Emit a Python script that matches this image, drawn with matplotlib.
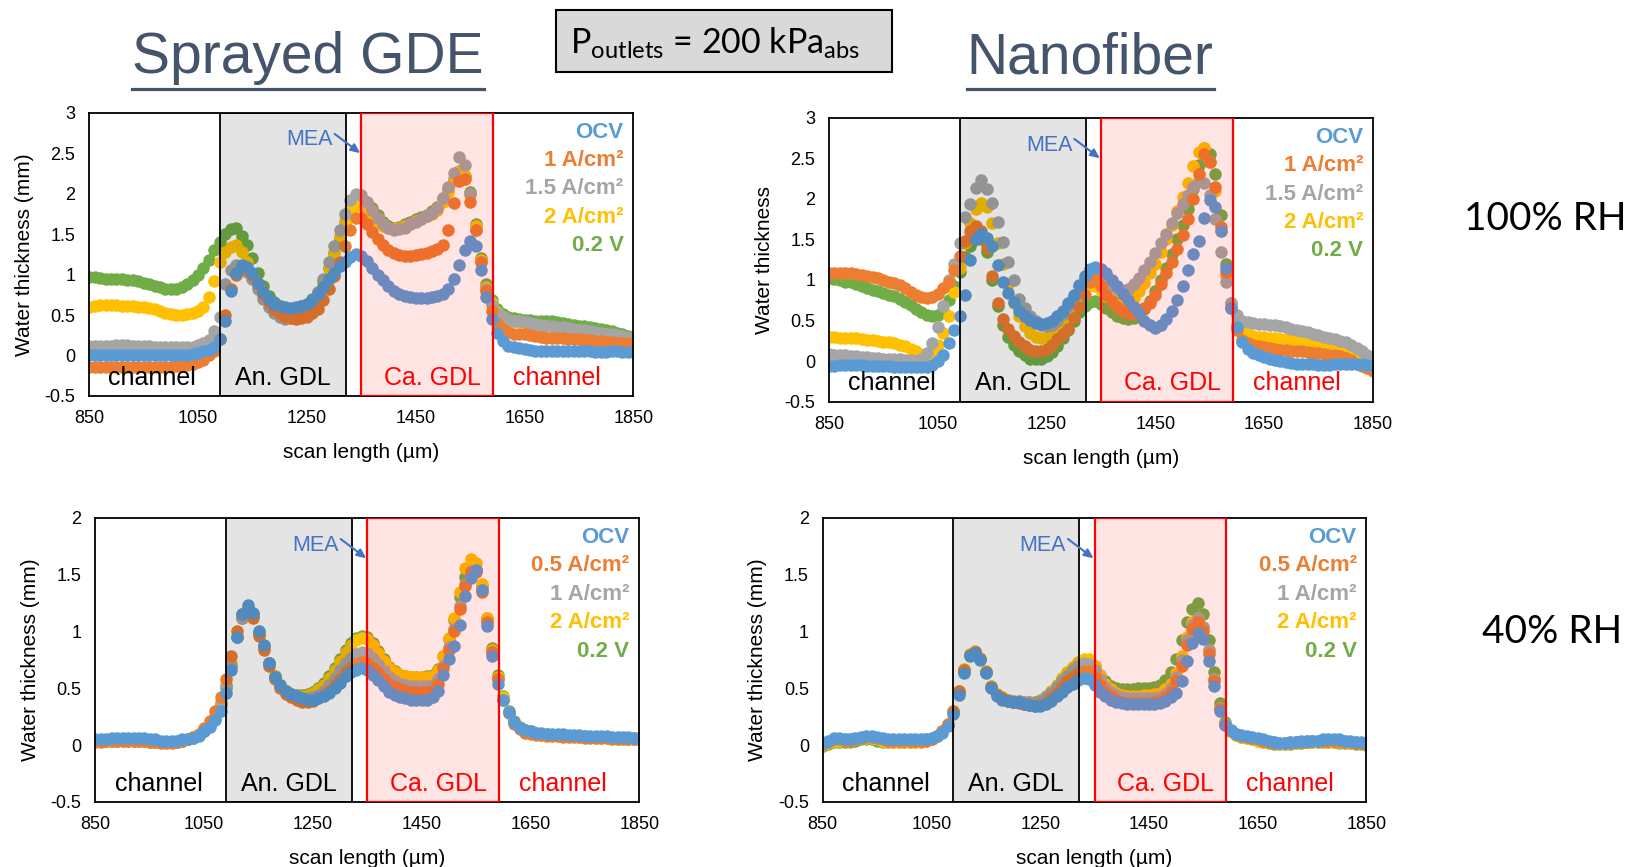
import numpy as np
import matplotlib
matplotlib.use("Agg")
import matplotlib.pyplot as plt
from matplotlib.patches import Rectangle
from matplotlib.lines import Line2D

plt.rcParams["font.family"] = ["Liberation Sans", "DejaVu Sans"]
plt.rcParams["mathtext.fontset"] = "custom"
plt.rcParams["mathtext.rm"] = "Lato"
plt.rcParams["mathtext.it"] = "Lato:italic"
plt.rcParams["mathtext.bf"] = "Lato:bold"

# scan positions along the through-plane line (µm)
SCAN_UM = list(range(850, 1851, 10))

# ---- Sprayed GDE, 100 % RH ----
sprayed_100_ocv = [
    0.00, 0.00, 0.01, 0.01, 0.01, 0.00, 0.00, 0.00, 0.00, 0.00,
    0.00, 0.00, 0.00, 0.00, 0.00, 0.00, 0.00, 0.01, 0.01, 0.02,
    0.03, 0.05, 0.07, 0.10, 0.20, 0.42, 0.80, 1.02, 1.12, 1.09,
    1.02, 0.90, 0.79, 0.70, 0.64, 0.61, 0.60, 0.59, 0.60, 0.61,
    0.64, 0.69, 0.76, 0.85, 0.94, 1.02, 1.10, 1.16, 1.22, 1.25,
    1.23, 1.17, 1.08, 1.00, 0.93, 0.86, 0.80, 0.76, 0.74, 0.72,
    0.71, 0.71, 0.71, 0.72, 0.73, 0.76, 0.82, 0.95, 1.12, 1.30,
    1.42, 1.35, 1.05, 0.72, 0.45, 0.28, 0.18, 0.12, 0.10, 0.09,
    0.08, 0.07, 0.06, 0.06, 0.05, 0.05, 0.05, 0.05, 0.05, 0.05,
    0.05, 0.05, 0.05, 0.04, 0.04, 0.04, 0.05, 0.05, 0.04, 0.04,
    0.04]
sprayed_100_1a = [
    -0.14, -0.14, -0.14, -0.14, -0.14, -0.14, -0.14, -0.14, -0.14, -0.14,
    -0.14, -0.14, -0.14, -0.14, -0.14, -0.14, -0.13, -0.13, -0.12, -0.10,
    -0.08, -0.05, 0.00, 0.05, 0.20, 0.50, 0.82, 1.00, 1.08, 1.07,
    1.00, 0.88, 0.76, 0.66, 0.58, 0.52, 0.48, 0.46, 0.45, 0.46,
    0.48, 0.52, 0.58, 0.68, 0.82, 0.98, 1.15, 1.35, 1.55, 1.70,
    1.70, 1.62, 1.52, 1.44, 1.36, 1.30, 1.26, 1.24, 1.23, 1.23,
    1.24, 1.25, 1.27, 1.29, 1.31, 1.36, 1.55, 1.88, 2.16, 2.18,
    1.90, 1.55, 1.15, 0.80, 0.55, 0.40, 0.33, 0.29, 0.27, 0.26,
    0.26, 0.25, 0.24, 0.23, 0.22, 0.22, 0.21, 0.21, 0.20, 0.20,
    0.20, 0.19, 0.19, 0.18, 0.18, 0.17, 0.17, 0.16, 0.15, 0.15,
    0.14]
sprayed_100_15a = [
    0.12, 0.12, 0.12, 0.12, 0.12, 0.13, 0.13, 0.13, 0.12, 0.12,
    0.12, 0.12, 0.11, 0.11, 0.10, 0.10, 0.10, 0.10, 0.10, 0.11,
    0.13, 0.15, 0.19, 0.30, 0.48, 0.88, 1.06, 1.12, 1.10, 1.03,
    0.94, 0.82, 0.70, 0.60, 0.52, 0.47, 0.45, 0.46, 0.48, 0.52,
    0.57, 0.65, 0.78, 0.95, 1.15, 1.35, 1.55, 1.75, 1.92, 2.00,
    1.98, 1.90, 1.80, 1.70, 1.62, 1.57, 1.55, 1.56, 1.58, 1.62,
    1.65, 1.68, 1.72, 1.76, 1.82, 1.95, 2.08, 2.25, 2.45, 2.35,
    2.00, 1.55, 1.15, 0.82, 0.62, 0.52, 0.47, 0.44, 0.43, 0.42,
    0.41, 0.40, 0.39, 0.38, 0.37, 0.36, 0.35, 0.35, 0.34, 0.33,
    0.32, 0.31, 0.30, 0.29, 0.28, 0.27, 0.26, 0.25, 0.24, 0.22,
    0.20]
sprayed_100_2a = [
    0.60, 0.61, 0.62, 0.62, 0.62, 0.62, 0.61, 0.61, 0.61, 0.60,
    0.60, 0.59, 0.57, 0.55, 0.53, 0.51, 0.50, 0.50, 0.51, 0.53,
    0.55, 0.60, 0.72, 0.92, 1.15, 1.28, 1.34, 1.36, 1.28, 1.15,
    1.00, 0.86, 0.74, 0.66, 0.60, 0.56, 0.54, 0.54, 0.55, 0.57,
    0.60, 0.66, 0.76, 0.90, 1.08, 1.28, 1.48, 1.66, 1.80, 1.86,
    1.85, 1.80, 1.72, 1.65, 1.60, 1.57, 1.56, 1.57, 1.60, 1.63,
    1.66, 1.69, 1.72, 1.75, 1.80, 1.90, 2.02, 2.16, 2.28, 2.22,
    2.00, 1.60, 1.18, 0.85, 0.65, 0.54, 0.48, 0.44, 0.42, 0.41,
    0.40, 0.39, 0.38, 0.37, 0.36, 0.35, 0.34, 0.33, 0.33, 0.32,
    0.31, 0.30, 0.29, 0.28, 0.27, 0.26, 0.25, 0.24, 0.23, 0.21,
    0.20]
sprayed_100_02v = [
    0.97, 0.97, 0.96, 0.95, 0.95, 0.94, 0.94, 0.93, 0.93, 0.92,
    0.90, 0.88, 0.86, 0.84, 0.82, 0.82, 0.82, 0.84, 0.88, 0.93,
    1.00, 1.08, 1.18, 1.30, 1.40, 1.50, 1.56, 1.57, 1.48, 1.36,
    1.20, 1.02, 0.86, 0.74, 0.66, 0.61, 0.59, 0.58, 0.59, 0.61,
    0.64, 0.70, 0.79, 0.92, 1.08, 1.26, 1.45, 1.63, 1.80, 1.92,
    1.95, 1.90, 1.82, 1.73, 1.65, 1.60, 1.58, 1.59, 1.62, 1.65,
    1.68, 1.71, 1.74, 1.78, 1.84, 1.94, 2.05, 2.18, 2.28, 2.22,
    2.02, 1.62, 1.20, 0.88, 0.68, 0.57, 0.51, 0.48, 0.46, 0.45,
    0.44, 0.44, 0.43, 0.43, 0.42, 0.42, 0.41, 0.40, 0.39, 0.38,
    0.37, 0.36, 0.35, 0.34, 0.33, 0.31, 0.30, 0.28, 0.26, 0.24,
    0.22]

# ---- Nanofiber, 100 % RH ----
nano_100_ocv = [
    -0.06, -0.06, -0.05, -0.05, -0.05, -0.05, -0.05, -0.06, -0.06, -0.06,
    -0.06, -0.06, -0.07, -0.07, -0.07, -0.07, -0.07, -0.07, -0.07, -0.05,
    0.00, 0.08, 0.22, 0.38, 0.55, 0.82, 1.25, 1.50, 1.57, 1.52,
    1.42, 1.18, 0.98, 0.84, 0.73, 0.62, 0.56, 0.51, 0.47, 0.46,
    0.47, 0.49, 0.55, 0.62, 0.71, 0.82, 0.94, 1.05, 1.13, 1.16,
    1.14, 1.08, 1.00, 0.92, 0.83, 0.75, 0.67, 0.59, 0.50, 0.44,
    0.41, 0.44, 0.52, 0.62, 0.75, 0.92, 1.12, 1.32, 1.48, 1.76,
    1.98, 1.90, 1.60, 1.15, 0.66, 0.42, 0.24, 0.15, 0.10, 0.07,
    0.05, 0.03, 0.01, 0.00, -0.01, -0.02, -0.03, -0.03, -0.04, -0.04,
    -0.05, -0.05, -0.05, -0.04, -0.04, -0.04, -0.03, -0.03, -0.04, -0.05,
    -0.06]
nano_100_1a = [
    1.08, 1.09, 1.09, 1.08, 1.08, 1.07, 1.06, 1.05, 1.04, 1.02,
    1.00, 0.98, 0.96, 0.94, 0.90, 0.85, 0.81, 0.79, 0.78, 0.79,
    0.83, 0.90, 0.98, 1.12, 1.30, 1.48, 1.60, 1.66, 1.60, 1.39,
    1.05, 0.72, 0.52, 0.40, 0.31, 0.24, 0.18, 0.14, 0.12, 0.12,
    0.15, 0.20, 0.27, 0.34, 0.40, 0.53, 0.67, 0.82, 0.97, 1.02,
    0.92, 0.82, 0.74, 0.67, 0.62, 0.59, 0.58, 0.60, 0.65, 0.72,
    0.82, 0.95, 1.08, 1.22, 1.38, 1.55, 1.75, 2.00, 2.30, 2.55,
    2.45, 2.15, 1.65, 1.10, 0.65, 0.38, 0.26, 0.22, 0.20, 0.18,
    0.17, 0.16, 0.15, 0.14, 0.14, 0.13, 0.12, 0.12, 0.11, 0.10,
    0.10, 0.09, 0.08, 0.07, 0.06, 0.04, 0.01, -0.03, -0.06, -0.09,
    -0.12]
nano_100_15a = [
    0.09, 0.08, 0.08, 0.07, 0.06, 0.06, 0.05, 0.05, 0.04, 0.04,
    0.03, 0.03, 0.02, 0.02, 0.01, 0.01, 0.00, 0.02, 0.10, 0.22,
    0.42, 0.68, 1.00, 1.20, 1.45, 1.78, 1.94, 2.13, 2.23, 2.12,
    1.95, 1.72, 1.47, 1.22, 1.00, 0.76, 0.65, 0.56, 0.50, 0.45,
    0.43, 0.45, 0.50, 0.58, 0.68, 0.80, 0.92, 1.02, 1.08, 1.10,
    1.06, 1.00, 0.94, 0.89, 0.87, 0.89, 0.95, 1.03, 1.12, 1.22,
    1.33, 1.45, 1.57, 1.70, 1.82, 1.93, 2.05, 2.15, 2.22, 2.20,
    2.05, 1.75, 1.35, 0.98, 0.72, 0.57, 0.50, 0.48, 0.47, 0.46,
    0.46, 0.45, 0.44, 0.43, 0.42, 0.40, 0.38, 0.37, 0.36, 0.34,
    0.32, 0.30, 0.29, 0.27, 0.25, 0.23, 0.20, 0.16, 0.12, 0.08,
    0.05]
nano_100_2a = [
    0.30, 0.30, 0.29, 0.29, 0.28, 0.28, 0.27, 0.26, 0.26, 0.25,
    0.24, 0.23, 0.22, 0.20, 0.18, 0.15, 0.12, 0.08, 0.06, 0.10,
    0.20, 0.35, 0.55, 0.85, 1.15, 1.45, 1.70, 1.88, 1.95, 1.90,
    1.70, 1.45, 1.20, 0.95, 0.72, 0.55, 0.43, 0.35, 0.30, 0.29,
    0.30, 0.35, 0.42, 0.52, 0.62, 0.72, 0.82, 0.90, 0.94, 0.93,
    0.88, 0.80, 0.75, 0.71, 0.70, 0.72, 0.78, 0.86, 0.96, 1.08,
    1.20, 1.35, 1.50, 1.68, 1.85, 2.02, 2.20, 2.40, 2.58, 2.62,
    2.45, 2.10, 1.60, 1.05, 0.65, 0.45, 0.36, 0.33, 0.31, 0.30,
    0.30, 0.29, 0.28, 0.27, 0.27, 0.26, 0.25, 0.25, 0.24, 0.23,
    0.22, 0.21, 0.20, 0.19, 0.18, 0.17, 0.14, 0.10, 0.07, 0.04,
    0.02]
nano_100_02v = [
    1.02, 1.01, 1.00, 0.98, 0.97, 0.95, 0.93, 0.90, 0.88, 0.86,
    0.84, 0.82, 0.80, 0.77, 0.73, 0.69, 0.64, 0.60, 0.57, 0.56,
    0.57, 0.62, 0.75, 0.92, 1.10, 1.28, 1.42, 1.50, 1.50, 1.35,
    1.00, 0.68, 0.45, 0.30, 0.20, 0.12, 0.07, 0.03, 0.02, 0.03,
    0.06, 0.11, 0.18, 0.28, 0.38, 0.50, 0.60, 0.68, 0.73, 0.74,
    0.70, 0.65, 0.60, 0.56, 0.53, 0.52, 0.53, 0.57, 0.64, 0.74,
    0.86, 1.00, 1.15, 1.32, 1.50, 1.68, 1.88, 2.12, 2.42, 2.62,
    2.55, 2.30, 1.80, 1.20, 0.72, 0.45, 0.34, 0.30, 0.29, 0.28,
    0.28, 0.27, 0.26, 0.25, 0.24, 0.24, 0.23, 0.22, 0.21, 0.21,
    0.20, 0.19, 0.18, 0.16, 0.14, 0.12, 0.09, 0.06, 0.03, 0.01,
    0.00]

# ---- Sprayed GDE, 40 % RH ----
sprayed_40_ocv = [
    0.05, 0.05, 0.05, 0.06, 0.06, 0.06, 0.06, 0.06, 0.06, 0.06,
    0.05, 0.05, 0.04, 0.04, 0.04, 0.04, 0.05, 0.05, 0.06, 0.08,
    0.12, 0.16, 0.22, 0.30, 0.46, 0.66, 0.95, 1.15, 1.23, 1.16,
    1.00, 0.88, 0.72, 0.60, 0.53, 0.48, 0.45, 0.43, 0.41, 0.40,
    0.40, 0.41, 0.43, 0.46, 0.50, 0.55, 0.61, 0.64, 0.66, 0.68,
    0.66, 0.62, 0.57, 0.52, 0.47, 0.44, 0.42, 0.41, 0.40, 0.40,
    0.40, 0.40, 0.42, 0.48, 0.62, 0.76, 0.87, 1.06, 1.31, 1.47,
    1.54, 1.36, 1.05, 0.78, 0.54, 0.40, 0.29, 0.20, 0.15, 0.13,
    0.12, 0.11, 0.11, 0.10, 0.10, 0.10, 0.10, 0.09, 0.09, 0.09,
    0.08, 0.08, 0.08, 0.08, 0.08, 0.07, 0.07, 0.07, 0.07, 0.06,
    0.06]
sprayed_40_05a = [
    0.03, 0.03, 0.04, 0.04, 0.04, 0.04, 0.04, 0.04, 0.04, 0.04,
    0.03, 0.03, 0.02, 0.02, 0.02, 0.03, 0.04, 0.05, 0.07, 0.10,
    0.15, 0.21, 0.30, 0.42, 0.58, 0.78, 1.00, 1.15, 1.20, 1.12,
    0.96, 0.84, 0.70, 0.58, 0.50, 0.45, 0.42, 0.40, 0.38, 0.38,
    0.39, 0.41, 0.44, 0.48, 0.53, 0.58, 0.64, 0.68, 0.71, 0.73,
    0.72, 0.68, 0.63, 0.58, 0.54, 0.51, 0.49, 0.48, 0.47, 0.47,
    0.47, 0.47, 0.48, 0.54, 0.68, 0.84, 1.00, 1.20, 1.40, 1.52,
    1.52, 1.35, 1.08, 0.82, 0.58, 0.40, 0.28, 0.19, 0.14, 0.11,
    0.10, 0.09, 0.09, 0.08, 0.08, 0.08, 0.07, 0.07, 0.07, 0.07,
    0.06, 0.06, 0.06, 0.06, 0.06, 0.05, 0.05, 0.05, 0.05, 0.05,
    0.05]
sprayed_40_1a = [
    0.04, 0.04, 0.04, 0.04, 0.05, 0.05, 0.05, 0.05, 0.05, 0.05,
    0.04, 0.04, 0.03, 0.03, 0.03, 0.03, 0.04, 0.05, 0.06, 0.09,
    0.13, 0.18, 0.25, 0.36, 0.52, 0.70, 0.95, 1.12, 1.20, 1.14,
    0.98, 0.86, 0.72, 0.60, 0.52, 0.47, 0.44, 0.42, 0.41, 0.41,
    0.42, 0.44, 0.48, 0.53, 0.59, 0.66, 0.72, 0.77, 0.80, 0.82,
    0.81, 0.77, 0.71, 0.65, 0.60, 0.56, 0.54, 0.53, 0.52, 0.52,
    0.52, 0.52, 0.53, 0.58, 0.70, 0.86, 1.02, 1.22, 1.42, 1.53,
    1.53, 1.36, 1.08, 0.82, 0.58, 0.40, 0.28, 0.20, 0.15, 0.12,
    0.11, 0.10, 0.10, 0.09, 0.09, 0.09, 0.08, 0.08, 0.08, 0.08,
    0.07, 0.07, 0.07, 0.07, 0.07, 0.06, 0.06, 0.06, 0.05, 0.05,
    0.05]
sprayed_40_2a = [
    0.04, 0.04, 0.04, 0.04, 0.05, 0.05, 0.05, 0.05, 0.05, 0.04,
    0.04, 0.03, 0.03, 0.03, 0.03, 0.04, 0.04, 0.05, 0.07, 0.09,
    0.13, 0.18, 0.26, 0.38, 0.54, 0.72, 0.96, 1.13, 1.21, 1.15,
    0.99, 0.86, 0.72, 0.61, 0.53, 0.48, 0.45, 0.43, 0.43, 0.44,
    0.46, 0.49, 0.53, 0.59, 0.66, 0.74, 0.82, 0.88, 0.92, 0.94,
    0.93, 0.88, 0.81, 0.74, 0.68, 0.64, 0.62, 0.61, 0.60, 0.60,
    0.60, 0.60, 0.61, 0.66, 0.78, 0.94, 1.12, 1.35, 1.56, 1.64,
    1.60, 1.42, 1.12, 0.84, 0.60, 0.42, 0.29, 0.20, 0.15, 0.12,
    0.11, 0.10, 0.09, 0.09, 0.09, 0.08, 0.08, 0.08, 0.08, 0.07,
    0.07, 0.07, 0.06, 0.06, 0.06, 0.06, 0.05, 0.05, 0.05, 0.05,
    0.05]
sprayed_40_02v = [
    0.04, 0.04, 0.04, 0.04, 0.04, 0.04, 0.04, 0.04, 0.04, 0.04,
    0.03, 0.03, 0.03, 0.03, 0.03, 0.03, 0.04, 0.05, 0.06, 0.09,
    0.12, 0.17, 0.24, 0.35, 0.50, 0.70, 0.95, 1.12, 1.20, 1.14,
    0.99, 0.86, 0.72, 0.61, 0.53, 0.48, 0.45, 0.44, 0.44, 0.45,
    0.47, 0.50, 0.55, 0.61, 0.68, 0.76, 0.84, 0.90, 0.94, 0.96,
    0.95, 0.90, 0.83, 0.76, 0.69, 0.65, 0.62, 0.61, 0.60, 0.60,
    0.60, 0.61, 0.62, 0.67, 0.78, 0.93, 1.10, 1.30, 1.48, 1.56,
    1.55, 1.40, 1.12, 0.85, 0.62, 0.43, 0.30, 0.21, 0.16, 0.13,
    0.12, 0.11, 0.10, 0.10, 0.09, 0.09, 0.09, 0.08, 0.08, 0.08,
    0.08, 0.07, 0.07, 0.07, 0.07, 0.06, 0.06, 0.06, 0.06, 0.06,
    0.06]

# ---- Nanofiber, 40 % RH ----
nano_40_ocv = [
    0.02, 0.04, 0.06, 0.06, 0.05, 0.05, 0.06, 0.07, 0.08, 0.08,
    0.07, 0.06, 0.05, 0.05, 0.05, 0.05, 0.05, 0.05, 0.05, 0.05,
    0.06, 0.08, 0.11, 0.17, 0.27, 0.44, 0.63, 0.78, 0.81, 0.75,
    0.63, 0.50, 0.43, 0.40, 0.39, 0.38, 0.38, 0.36, 0.35, 0.34,
    0.34, 0.36, 0.39, 0.43, 0.47, 0.51, 0.54, 0.57, 0.59, 0.58,
    0.53, 0.47, 0.43, 0.40, 0.38, 0.37, 0.36, 0.36, 0.36, 0.36,
    0.36, 0.36, 0.37, 0.39, 0.42, 0.46, 0.56, 0.74, 0.90, 0.99,
    0.93, 0.74, 0.52, 0.30, 0.18, 0.13, 0.10, 0.09, 0.08, 0.07,
    0.06, 0.05, 0.04, 0.03, 0.02, 0.02, 0.03, 0.03, 0.04, 0.04,
    0.04, 0.04, 0.05, 0.05, 0.05, 0.05, 0.04, 0.04, 0.03, 0.03,
    0.02]
nano_40_05a = [
    0.01, 0.03, 0.05, 0.05, 0.04, 0.04, 0.05, 0.06, 0.07, 0.07,
    0.06, 0.05, 0.04, 0.04, 0.04, 0.04, 0.04, 0.04, 0.04, 0.04,
    0.05, 0.08, 0.12, 0.19, 0.30, 0.48, 0.66, 0.79, 0.82, 0.76,
    0.64, 0.51, 0.44, 0.41, 0.39, 0.38, 0.37, 0.36, 0.35, 0.34,
    0.35, 0.37, 0.41, 0.46, 0.51, 0.56, 0.60, 0.63, 0.65, 0.65,
    0.60, 0.53, 0.47, 0.43, 0.40, 0.38, 0.37, 0.37, 0.37, 0.37,
    0.37, 0.38, 0.39, 0.42, 0.47, 0.56, 0.70, 0.88, 1.02, 1.08,
    1.00, 0.80, 0.56, 0.32, 0.18, 0.12, 0.10, 0.08, 0.07, 0.06,
    0.05, 0.04, 0.03, 0.02, 0.02, 0.02, 0.02, 0.03, 0.03, 0.03,
    0.04, 0.04, 0.04, 0.04, 0.04, 0.04, 0.03, 0.03, 0.02, 0.02,
    0.01]
nano_40_1a = [
    0.01, 0.03, 0.05, 0.05, 0.05, 0.05, 0.05, 0.06, 0.07, 0.07,
    0.06, 0.05, 0.04, 0.04, 0.04, 0.04, 0.04, 0.04, 0.04, 0.05,
    0.06, 0.08, 0.12, 0.18, 0.28, 0.46, 0.65, 0.79, 0.82, 0.76,
    0.64, 0.51, 0.44, 0.41, 0.40, 0.39, 0.39, 0.38, 0.38, 0.38,
    0.39, 0.42, 0.46, 0.51, 0.56, 0.61, 0.66, 0.70, 0.72, 0.71,
    0.66, 0.58, 0.51, 0.47, 0.44, 0.42, 0.41, 0.41, 0.41, 0.41,
    0.41, 0.41, 0.42, 0.45, 0.50, 0.60, 0.75, 0.92, 1.06, 1.12,
    1.04, 0.84, 0.58, 0.33, 0.19, 0.13, 0.10, 0.08, 0.07, 0.06,
    0.05, 0.04, 0.03, 0.03, 0.02, 0.02, 0.03, 0.03, 0.03, 0.04,
    0.04, 0.04, 0.04, 0.04, 0.04, 0.04, 0.04, 0.03, 0.03, 0.02,
    0.02]
nano_40_2a = [
    0.00, 0.02, 0.04, 0.04, 0.04, 0.04, 0.05, 0.06, 0.06, 0.06,
    0.05, 0.04, 0.03, 0.03, 0.03, 0.03, 0.03, 0.03, 0.03, 0.04,
    0.05, 0.08, 0.12, 0.19, 0.30, 0.48, 0.67, 0.80, 0.83, 0.77,
    0.65, 0.52, 0.45, 0.42, 0.40, 0.39, 0.39, 0.38, 0.38, 0.38,
    0.40, 0.43, 0.48, 0.53, 0.59, 0.64, 0.69, 0.73, 0.76, 0.76,
    0.70, 0.62, 0.54, 0.49, 0.46, 0.44, 0.43, 0.43, 0.43, 0.44,
    0.44, 0.45, 0.46, 0.49, 0.54, 0.63, 0.78, 0.95, 1.08, 1.12,
    1.04, 0.84, 0.58, 0.33, 0.19, 0.12, 0.09, 0.07, 0.06, 0.05,
    0.04, 0.03, 0.02, 0.02, 0.01, 0.01, 0.02, 0.02, 0.03, 0.03,
    0.03, 0.03, 0.03, 0.03, 0.03, 0.03, 0.03, 0.02, 0.02, 0.01,
    0.01]
nano_40_02v = [
    -0.01, 0.01, 0.03, 0.03, 0.03, 0.03, 0.04, 0.05, 0.05, 0.05,
    0.04, 0.03, 0.03, 0.03, 0.03, 0.03, 0.03, 0.03, 0.03, 0.04,
    0.05, 0.08, 0.12, 0.18, 0.29, 0.47, 0.66, 0.79, 0.82, 0.76,
    0.64, 0.51, 0.44, 0.41, 0.39, 0.38, 0.38, 0.37, 0.37, 0.37,
    0.39, 0.42, 0.47, 0.52, 0.58, 0.63, 0.68, 0.72, 0.75, 0.75,
    0.70, 0.62, 0.56, 0.52, 0.50, 0.49, 0.49, 0.49, 0.50, 0.50,
    0.50, 0.51, 0.53, 0.57, 0.64, 0.76, 0.92, 1.08, 1.20, 1.25,
    1.15, 0.92, 0.64, 0.37, 0.20, 0.12, 0.09, 0.07, 0.06, 0.05,
    0.04, 0.03, 0.02, 0.01, 0.01, 0.01, 0.01, 0.02, 0.02, 0.03,
    0.03, 0.03, 0.03, 0.03, 0.03, 0.02, 0.02, 0.02, 0.01, 0.01,
    0.00]

LABELS_100 = ["OCV", "1 A/cm²", "1.5 A/cm²", "2 A/cm²", "0.2 V"]
LABELS_40 = ["OCV", "0.5 A/cm²", "1 A/cm²", "2 A/cm²", "0.2 V"]
COLORS = ["#5B9BD5", "#ED7D31", "#A5A5A5", "#FFC000", "#70AD47"]

# layer boundaries along the scan (µm)
AN_GDL = (1090, 1322)
CA_GDL = (1350, 1592)

fig = plt.figure(figsize=(16.4, 8.67), dpi=100)


def draw_panel(rect, series, labels, ymax, ylabel):
    ax = fig.add_axes(rect)
    # OCV is drawn last so it sits on top
    for ys, c in reversed(list(zip(series, COLORS))):
        ax.plot(SCAN_UM, ys, ls="none", marker="o", ms=9, mew=0,
                color=c, zorder=2)

    ax.set_xlim(850, 1850)
    ax.set_ylim(-0.5, ymax)
    ax.set_xticks(range(850, 1851, 200))
    yt = np.arange(-0.5, ymax + 0.01, 0.5)
    ax.set_yticks(yt)
    ax.set_yticklabels([f"{v:g}" for v in yt])
    ax.tick_params(length=0, pad=10, labelsize=13)
    for sp in ax.spines.values():
        sp.set_linewidth(1.3)
        sp.set_color("black")
    ax.set_xlabel("scan length (µm)", fontsize=15)
    ax.set_ylabel(ylabel, fontsize=15)
    ax.xaxis.set_label_coords(0.5, -0.165)
    ax.yaxis.set_label_coords(-0.102, 0.5)

    # layer overlays sit above the markers, as in the source spreadsheet
    ax.add_patch(Rectangle((AN_GDL[0], -0.5), AN_GDL[1] - AN_GDL[0], ymax + 0.5,
                           fc=(0, 0, 0, 0.105), ec="black", lw=1.3, zorder=3))
    ax.add_patch(Rectangle((CA_GDL[0], -0.5), CA_GDL[1] - CA_GDL[0], ymax + 0.5,
                           fc=(1, 0, 0, 0.105), ec="red", lw=1.6, zorder=3))

    xt = ax.get_xaxis_transform()
    for x, txt, c in [(966, "channel", "black"), (1206, "An. GDL", "black"),
                      (1481, "Ca. GDL", "red"), (1710, "channel", "red")]:
        ax.text(x, 0.04, txt, transform=xt, ha="center", va="baseline",
                fontsize=18, color=c, zorder=4)

    ax.text(1255, 0.884, "MEA", transform=xt, ha="center", va="baseline",
            fontsize=15.5, color="#4472C4", zorder=4)
    ax.annotate("", xy=(1348, 0.857), xytext=(1301, 0.925),
                xycoords=xt, textcoords=xt,
                arrowprops=dict(arrowstyle="-|>,head_length=0.55,head_width=0.25",
                                color="#4472C4", lw=1.5, shrinkA=0, shrinkB=0),
                zorder=4)

    for i, (lab, c) in enumerate(zip(labels, COLORS)):
        ax.text(0.982, 0.931 - 0.1 * i, lab, transform=ax.transAxes,
                ha="right", va="center", fontsize=16, fontweight="bold",
                color=c, zorder=4)
    return ax


draw_panel([0.0544, 0.5433, 0.3318, 0.3268],
           [sprayed_100_ocv, sprayed_100_1a, sprayed_100_15a, sprayed_100_2a, sprayed_100_02v],
           LABELS_100, 3.0, "Water thickness (mm)")
draw_panel([0.5055, 0.5367, 0.3316, 0.3276],
           [nano_100_ocv, nano_100_1a, nano_100_15a, nano_100_2a, nano_100_02v],
           LABELS_100, 3.0, "Water thickness")
draw_panel([0.0582, 0.0750, 0.3316, 0.3279],
           [sprayed_40_ocv, sprayed_40_05a, sprayed_40_1a, sprayed_40_2a, sprayed_40_02v],
           LABELS_40, 2.0, "Water thickness (mm)")
draw_panel([0.5017, 0.0750, 0.3315, 0.3279],
           [nano_40_ocv, nano_40_05a, nano_40_1a, nano_40_2a, nano_40_02v],
           LABELS_40, 2.0, "Water thickness (mm)")

# column headings, underlined
title_color = "#44546A"
titles = [fig.text(0.1877, 0.9155, "Sprayed GDE", fontsize=41, color=title_color,
                   ha="center", va="baseline"),
          fig.text(0.6648, 0.9155, "Nanofiber", fontsize=41, color=title_color,
                   ha="center", va="baseline")]

# outlet pressure box
fig.add_artist(Rectangle((0.3388, 0.917), 0.2049, 0.0715, transform=fig.transFigure,
                         fc="#D9D9D9", ec="black", lw=1.5))
fig.text(0.436, 0.9385, r"P$_{\mathrm{outlets}}$ = 200 kPa$_{\mathrm{abs}}$",
         family="Lato", fontsize=24.5, ha="center", va="baseline")

# humidity row labels
fig.text(0.942, 0.7347, "100% RH", family="Lato", fontsize=28,
         ha="center", va="baseline")
fig.text(0.9463, 0.2584, "40% RH", family="Lato", fontsize=28,
         ha="center", va="baseline")

fig.canvas.draw()
W = fig.bbox.width
for t in titles:
    bb = t.get_window_extent()
    fig.add_artist(Line2D([bb.x0 / W, bb.x1 / W], [0.897, 0.897],
                          transform=fig.transFigure, color=title_color, lw=2.3))

fig.savefig("out.png", dpi=100)
